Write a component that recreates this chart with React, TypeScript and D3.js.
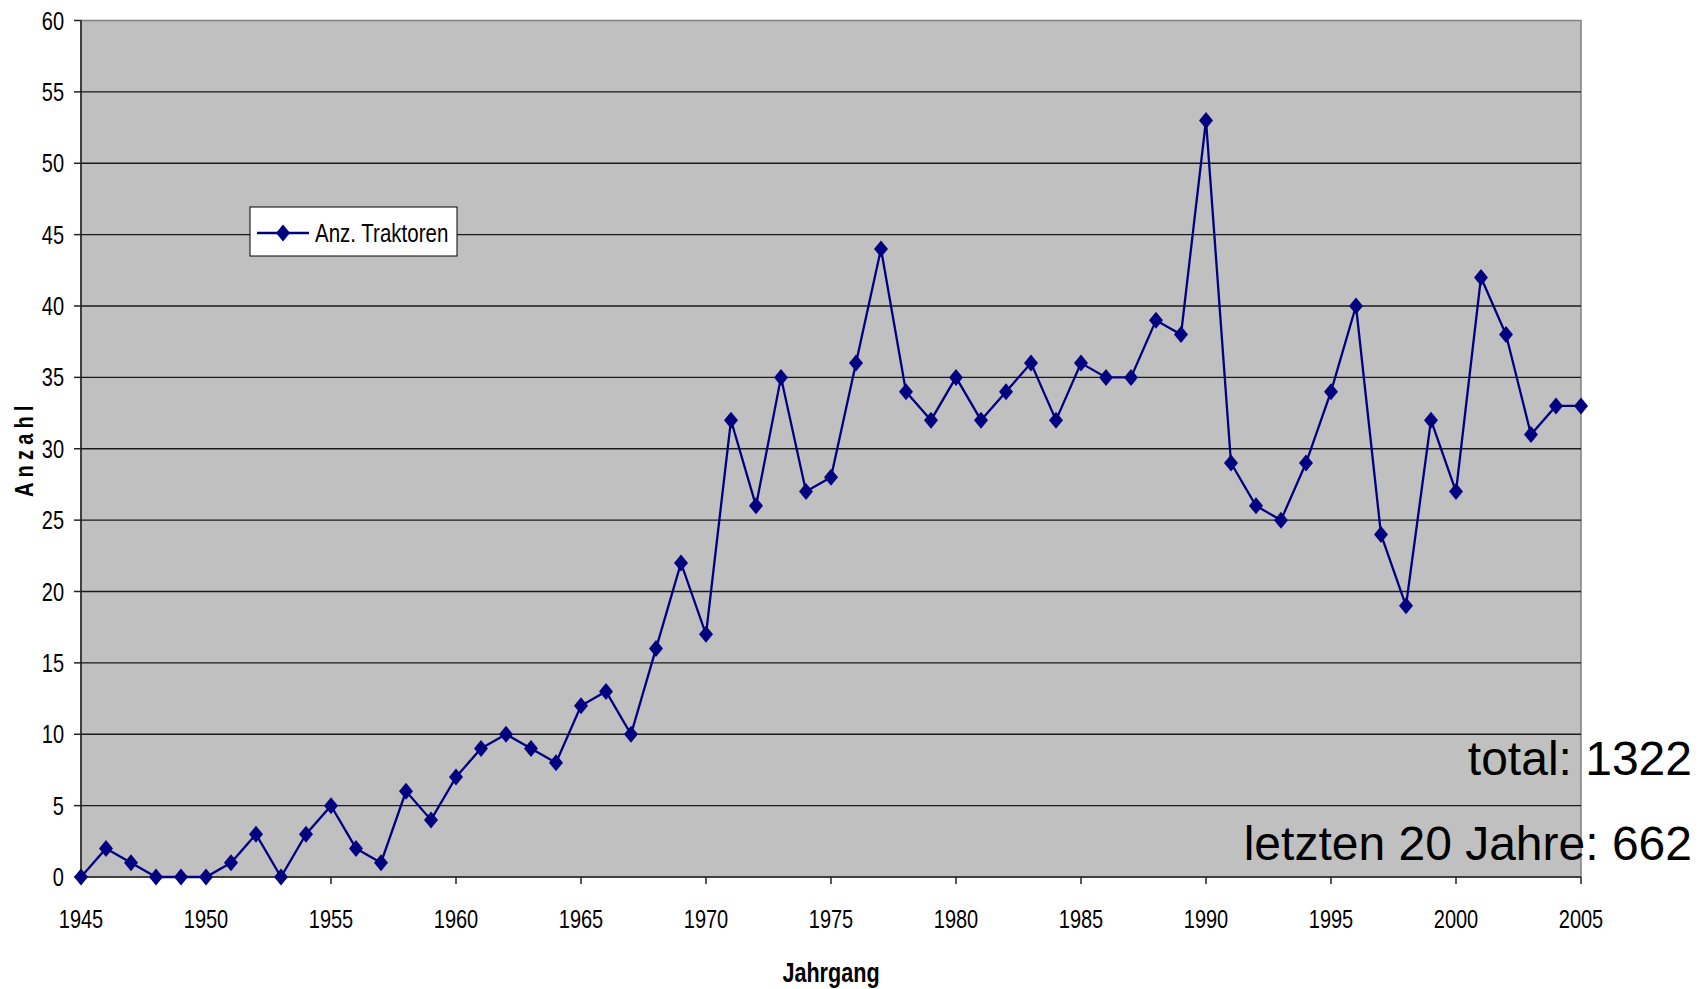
import React, { useRef, useEffect } from "react";
import * as d3 from "d3";

const years = d3.range(1945, 2006);
const anzahl = [
  0, 2, 1, 0, 0, 0, 1, 3, 0, 3,
  5, 2, 1, 6, 4, 7, 9, 10, 9, 8,
  12, 13, 10, 16, 22, 17, 32, 26, 35, 27,
  28, 36, 44, 34, 32, 35, 32, 34, 36, 32,
  36, 35, 35, 39, 38, 53, 29, 26, 25, 29,
  34, 40, 24, 19, 32, 27, 42, 38, 31, 33, 33,
];
const yTicks = d3.range(0, 61, 5);
const xTicks = d3.range(1945, 2006, 5);
const seriesName = "Anz. Traktoren";
const notes = ["total: 1322", "letzten 20 Jahre: 662"];

export default function App() {
  const ref = useRef<SVGSVGElement>(null);

  useEffect(() => {
    document.body.style.margin = "0";
    const width = 1707;
    const height = 989;
    const m = { left: 81, right: 1581, top: 20.5, bottom: 877 };
    const font = "'Liberation Sans', Arial, sans-serif";
    const squeeze = 0.8; // no Arial Narrow here, so squash Arial-metric text

    const svg = d3.select(ref.current);
    svg.selectAll("*").remove();
    svg.attr("width", width).attr("height", height);

    const x = d3.scaleLinear().domain([1945, 2005]).range([m.left, m.right]);
    const y = d3.scaleLinear().domain([0, 60]).range([m.bottom, m.top]);

    // plot background
    svg
      .append("rect")
      .attr("x", m.left)
      .attr("y", m.top)
      .attr("width", m.right - m.left)
      .attr("height", m.bottom - m.top)
      .attr("fill", "#c0c0c0")
      .attr("stroke", "#808080")
      .attr("stroke-width", 1.5);

    // gridlines
    svg
      .append("g")
      .selectAll("line")
      .data(yTicks.filter((d) => d > 0 && d < 60))
      .join("line")
      .attr("x1", m.left)
      .attr("x2", m.right)
      .attr("y1", (d) => y(d))
      .attr("y2", (d) => y(d))
      .attr("stroke", "#1a1a1a")
      .attr("stroke-width", 1.3);

    // axes
    const axisG = svg.append("g").attr("stroke", "#222").attr("stroke-width", 1.5);
    axisG.append("line").attr("x1", m.left).attr("x2", m.left).attr("y1", m.top).attr("y2", m.bottom);
    axisG.append("line").attr("x1", m.left).attr("x2", m.right).attr("y1", m.bottom).attr("y2", m.bottom);
    axisG
      .selectAll("line.yt")
      .data(yTicks)
      .join("line")
      .attr("class", "yt")
      .attr("x1", m.left - 7)
      .attr("x2", m.left)
      .attr("y1", (d) => y(d))
      .attr("y2", (d) => y(d));
    axisG
      .selectAll("line.xt")
      .data(xTicks)
      .join("line")
      .attr("class", "xt")
      .attr("x1", (d) => x(d))
      .attr("x2", (d) => x(d))
      .attr("y1", m.bottom)
      .attr("y2", m.bottom + 7);

    // tick labels
    svg
      .append("g")
      .selectAll("text")
      .data(yTicks)
      .join("text")
      .attr("transform", (d) => `translate(64,${y(d)}) scale(${squeeze},1)`)
      .attr("dy", "0.36em")
      .attr("text-anchor", "end")
      .attr("font-family", font)
      .attr("font-size", 25)
      .text((d) => d);

    svg
      .append("g")
      .selectAll("text")
      .data(xTicks)
      .join("text")
      .attr("transform", (d) => `translate(${x(d)},928) scale(${squeeze},1)`)
      .attr("text-anchor", "middle")
      .attr("font-family", font)
      .attr("font-size", 25)
      .text((d) => d);

    // axis titles
    svg
      .append("text")
      .attr("transform", `translate(${(m.left + m.right) / 2},982) scale(${squeeze},1)`)
      .attr("text-anchor", "middle")
      .attr("font-family", font)
      .attr("font-weight", "bold")
      .attr("font-size", 27)
      .text("Jahrgang");

    svg
      .append("text")
      .attr("transform", `translate(33,${(m.top + m.bottom) / 2}) rotate(-90) scale(${squeeze},1)`)
      .attr("text-anchor", "middle")
      .attr("font-family", font)
      .attr("font-weight", "bold")
      .attr("font-size", 25)
      .attr("letter-spacing", 6.5)
      .text("Anzahl");

    // series
    const pts = years.map((yr, i) => [yr, anzahl[i]] as [number, number]);
    const diamond = "M0,-8.5L7,0L0,8.5L-7,0Z";

    svg
      .append("path")
      .datum(pts)
      .attr("fill", "none")
      .attr("stroke", "#000080")
      .attr("stroke-width", 2.3)
      .attr(
        "d",
        d3
          .line<[number, number]>()
          .x((d) => x(d[0]))
          .y((d) => y(d[1]))
      );

    svg
      .append("g")
      .selectAll("path")
      .data(pts)
      .join("path")
      .attr("d", diamond)
      .attr("fill", "#000080")
      .attr("transform", (d) => `translate(${x(d[0])},${y(d[1])})`);

    // legend
    const lg = svg.append("g").attr("transform", "translate(250,207)");
    lg.append("rect")
      .attr("width", 207)
      .attr("height", 49)
      .attr("fill", "#fff")
      .attr("stroke", "#000")
      .attr("stroke-width", 1);
    lg.append("line")
      .attr("x1", 7)
      .attr("x2", 59)
      .attr("y1", 26)
      .attr("y2", 26)
      .attr("stroke", "#000080")
      .attr("stroke-width", 2.3);
    lg.append("path").attr("d", diamond).attr("fill", "#000080").attr("transform", "translate(33,26)");
    lg.append("text")
      .attr("transform", `translate(65,26) scale(${squeeze + 0.02},1)`)
      .attr("dy", "0.36em")
      .attr("font-family", font)
      .attr("font-size", 25)
      .text(seriesName);

    // annotations
    svg
      .append("g")
      .selectAll("text")
      .data(notes)
      .join("text")
      .attr("x", 1692)
      .attr("y", (d, i) => 775 + i * 85)
      .attr("text-anchor", "end")
      .attr("font-family", font)
      .attr("font-size", 48)
      .text((d) => d);
  }, []);

  return (
    <div style={{ margin: 0 }}>
      <svg ref={ref} style={{ display: "block" }} />
    </div>
  );
}
